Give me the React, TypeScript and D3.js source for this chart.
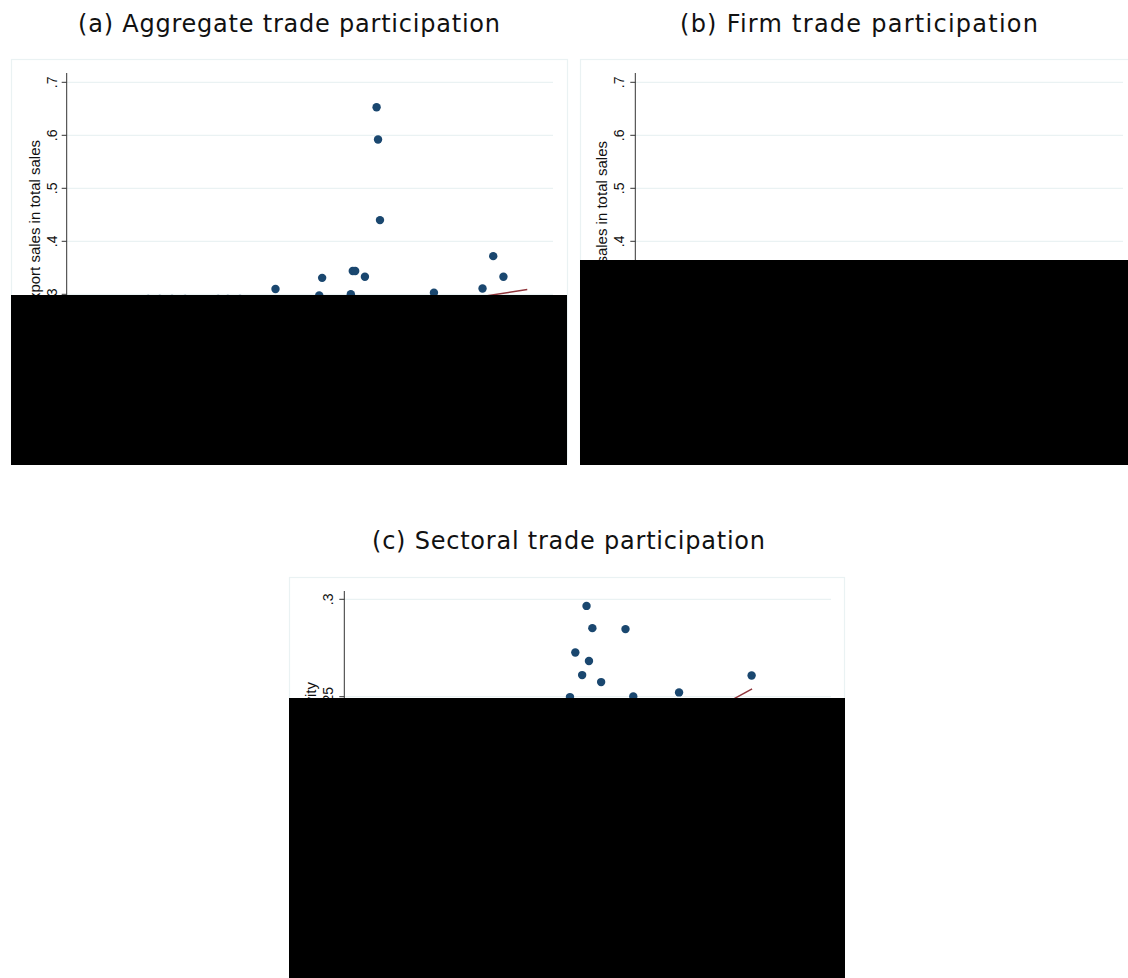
import React from "react";
import * as d3 from "d3";

// ---------- data ----------
const yTicksAB = [0.3, 0.4, 0.5, 0.6, 0.7];
const yTickLabelsAB = [".3", ".4", ".5", ".6", ".7"];
const yTicksC = [0.25, 0.3];
const yTickLabelsC = [".25", ".3"];

// panel (a) scatter: x (index units), y (export share)
const aX = [63.7, 64.0, 64.4, 87.7, 89.8, 52.5, 58.8, 59.3, 61.3, 85.5, 75.5, 58.4, 51.9, 42.9, 16.7, 19.1, 21.6, 24.3, 31.1, 33.1, 35.6];
const aY = [0.653, 0.592, 0.44, 0.372, 0.333, 0.331, 0.344, 0.344, 0.333, 0.311, 0.303, 0.3, 0.298, 0.31, 0.291, 0.291, 0.291, 0.291, 0.291, 0.291, 0.291];
const aFitX = [10, 94.7];
const aFitY = [0.19, 0.309];

// panel (b): no marks visible above the masked area
const bX: number[] = [];
const bY: number[] = [];

// panel (c) scatter
const cX = [49.8, 51.0, 57.8, 47.5, 50.3, 48.9, 52.8, 83.7, 68.8, 59.4, 46.4];
const cY = [0.2966, 0.2852, 0.2847, 0.2727, 0.2683, 0.2611, 0.2575, 0.2609, 0.2522, 0.2501, 0.2498];
const cFitX = [20, 83.8];
const cFitY = [0.167, 0.254];

const titles = ["(a) Aggregate trade participation", "(b) Firm trade participation", "(c) Sectoral trade participation"];
const titleWidths = [422, 358, 393];
const yTitles = ["Export sales in total sales", "Export sales in total sales", "Sectoral productivity"];

const NAVY = "#1a476f";
const MAROON = "#90353b";
const GRID = "#eaf2f3";
const FONT = "Liberation Sans, Arial, sans-serif";
const TFONT = "DejaVu Sans, sans-serif";

type PanelProps = {
  frame: [number, number, number, number];
  axisX: number;
  gridRight: number;
  axisTop: number;
  yScale: d3.ScaleLinear<number, number>;
  xScale: d3.ScaleLinear<number, number>;
  ticks: number[];
  tickLabels: string[];
  labelX: number;
  titleX: number;
  titleEndY: number;
  yTitle: string;
  xs: number[];
  ys: number[];
  fitX: number[];
  fitY: number[];
  mask: [number, number, number, number];
};

function Panel(p: PanelProps) {
  const [fx, fy, fw, fh] = p.frame;
  const line = d3
    .line<number>()
    .x((_, i) => p.xScale(p.fitX[i]))
    .y((_, i) => p.yScale(p.fitY[i]));
  return (
    <g>
      <rect x={fx + 0.5} y={fy + 0.5} width={fw} height={fh} fill="#fff" stroke={GRID} strokeWidth={1.2} />
      {p.ticks.map((t, i) => (
        <g key={i}>
          <line x1={p.axisX} x2={p.gridRight} y1={p.yScale(t)} y2={p.yScale(t)} stroke={GRID} strokeWidth={1.2} />
          <line x1={p.axisX - 5} x2={p.axisX} y1={p.yScale(t)} y2={p.yScale(t)} stroke="#333" strokeWidth={1} />
          <text
            transform={`translate(${p.labelX},${p.yScale(t)}) rotate(-90)`}
            textAnchor="middle"
            fontFamily={FONT}
            fontSize={14}
            fill="#111"
          >
            {p.tickLabels[i]}
          </text>
        </g>
      ))}
      <line x1={p.axisX} x2={p.axisX} y1={p.axisTop} y2={fy + fh} stroke="#333" strokeWidth={1} />
      <text
        transform={`translate(${p.titleX},${p.titleEndY}) rotate(-90)`}
        textAnchor="end"
        fontFamily={FONT}
        fontSize={15}
        fill="#111"
      >
        {p.yTitle}
      </text>
      <path d={line(p.fitX) || ""} fill="none" stroke={MAROON} strokeWidth={1.5} />
      {p.xs.map((x, i) => (
        <circle key={i} cx={p.xScale(x)} cy={p.yScale(p.ys[i])} r={4.2} fill={NAVY} />
      ))}
      <rect x={p.mask[0]} y={p.mask[1]} width={p.mask[2]} height={p.mask[3]} fill="#000" />
    </g>
  );
}

export default function App() {
  const yAB = d3.scaleLinear().domain([0.3, 0.7]).range([294.3, 82.3]);
  const xA = d3.scaleLinear().domain([0, 100]).range([67, 553]);
  const xB = d3.scaleLinear().domain([0, 100]).range([635, 1123]);
  const yC = d3.scaleLinear().domain([0.25, 0.3]).range([696.7, 599.3]);
  const xC = d3.scaleLinear().domain([0, 100]).range([344, 831]);

  const titlePos: [number, number][] = [
    [289, 32],
    [859, 32],
    [568.5, 549],
  ];

  return (
    <svg
      width={1128}
      height={978}
      style={{ position: "absolute", left: 0, top: 0, background: "#fff" }}
    >
      <rect x={0} y={0} width={1128} height={978} fill="#fff" />
      {titles.map((t, i) => (
        <text
          key={i}
          x={titlePos[i][0]}
          y={titlePos[i][1]}
          textAnchor="middle"
          fontFamily={TFONT}
          fontSize={24}
          textLength={titleWidths[i]}
          lengthAdjust="spacing"
          fill="#111"
        >
          {t}
        </text>
      ))}

      <Panel
        frame={[11, 59, 556, 400]}
        axisX={66.7}
        gridRight={553}
        axisTop={73}
        yScale={yAB}
        xScale={xA}
        ticks={yTicksAB}
        tickLabels={yTickLabelsAB}
        labelX={57}
        titleX={40}
        titleEndY={140}
        yTitle={yTitles[0]}
        xs={aX}
        ys={aY}
        fitX={aFitX}
        fitY={aFitY}
        mask={[11, 295, 556, 170]}
      />
      <Panel
        frame={[580, 59, 560, 400]}
        axisX={635.3}
        gridRight={1123}
        axisTop={73}
        yScale={yAB}
        xScale={xB}
        ticks={yTicksAB}
        tickLabels={yTickLabelsAB}
        labelX={623.5}
        titleX={607}
        titleEndY={141}
        yTitle={yTitles[1]}
        xs={bX}
        ys={bY}
        fitX={[]}
        fitY={[]}
        mask={[580, 260, 548, 205]}
      />
      <Panel
        frame={[289, 577, 555, 380]}
        axisX={344.3}
        gridRight={831}
        axisTop={591}
        yScale={yC}
        xScale={xC}
        ticks={yTicksC}
        tickLabels={yTickLabelsC}
        labelX={333}
        titleX={316}
        titleEndY={682}
        yTitle={yTitles[2]}
        xs={cX}
        ys={cY}
        fitX={cFitX}
        fitY={cFitY}
        mask={[289, 698, 556, 280]}
      />
    </svg>
  );
}
